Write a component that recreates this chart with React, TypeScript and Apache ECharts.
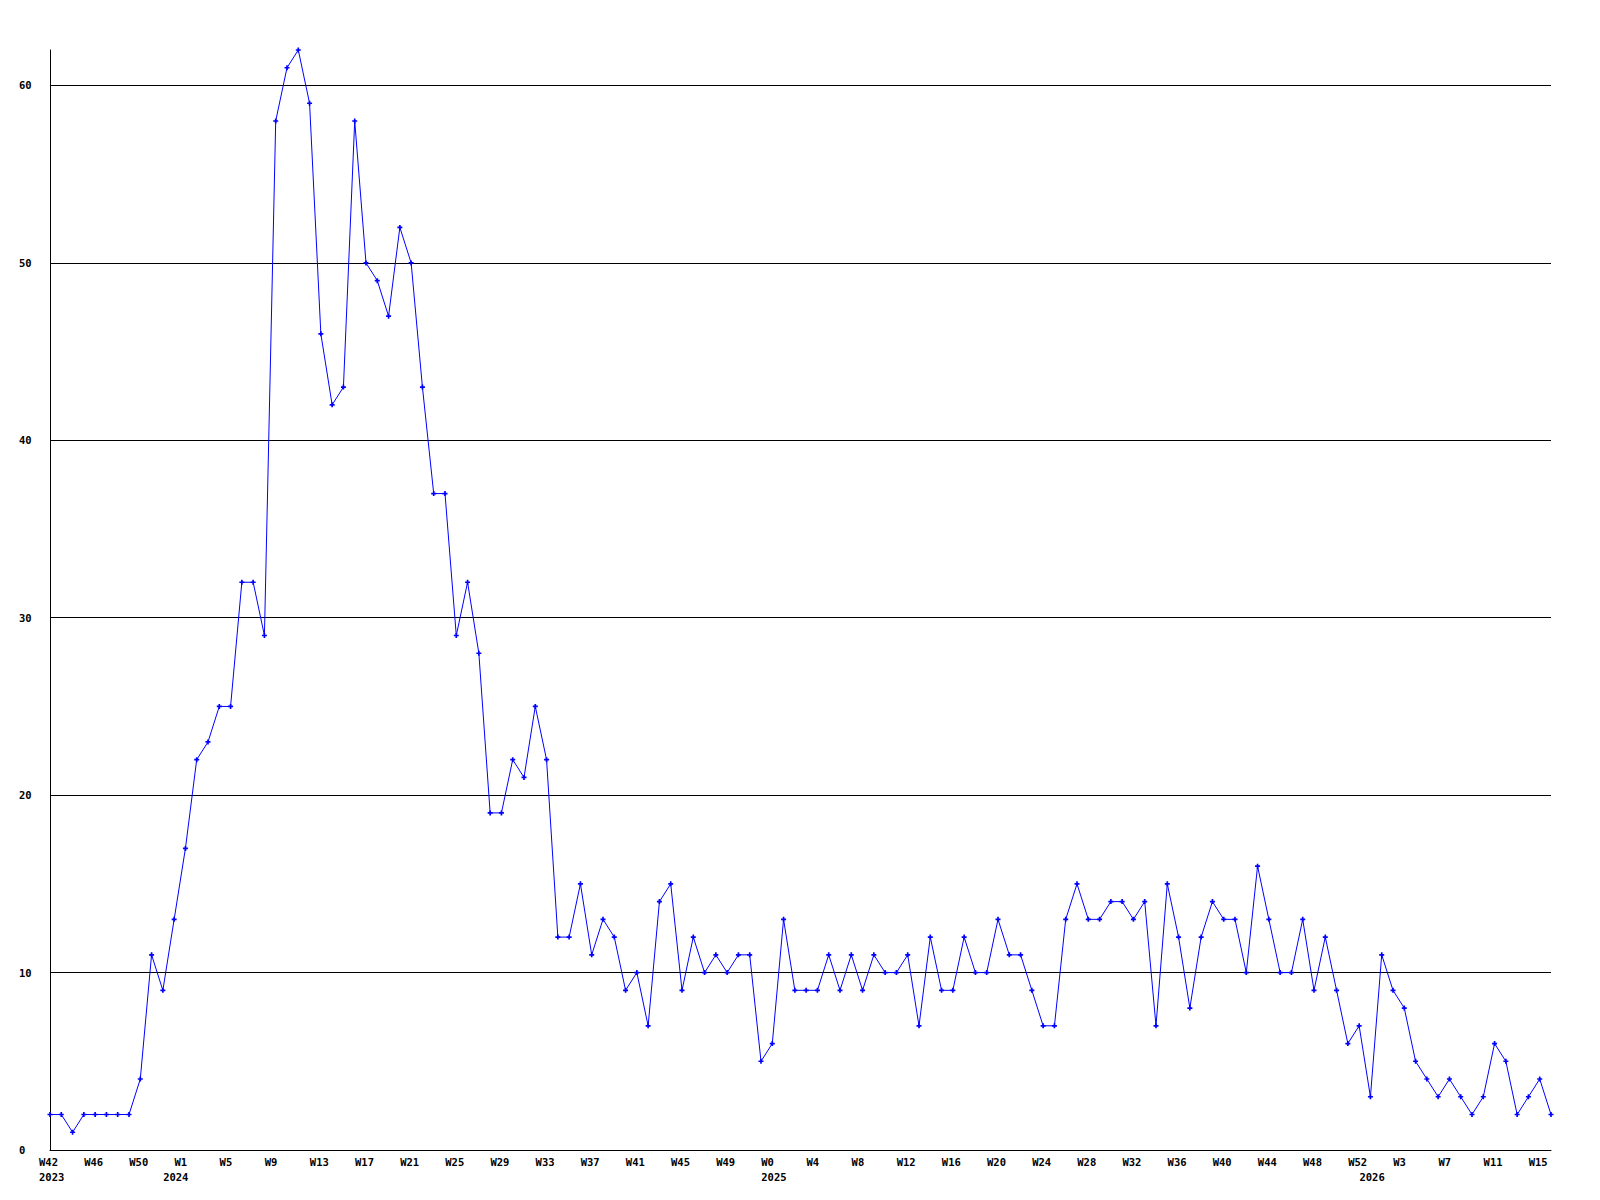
import React, { useEffect, useRef } from "react";
import * as echarts from "echarts";

// Week categories: "year|Wn"
function weeksOf(year: number, from: number, to: number): string[] {
  const out: string[] = [];
  for (let w = from; w <= to; w++) out.push(year + "|W" + w);
  return out;
}

const categories: string[] = [
  ...weeksOf(2023, 42, 52),
  ...weeksOf(2024, 0, 52),
  ...weeksOf(2025, 0, 52),
  ...weeksOf(2026, 0, 16),
];

const values2023: number[] = [2, 2, 1, 2, 2, 2, 2, 2, 4, 11, 9];
const values2024: number[] = [
  13, 17, 22, 23, 25, 25, 32, 32, 29, 58, 61, 62, 59, 46, 42, 43, 58, 50, 49, 47,
  52, 50, 43, 37, 37, 29, 32, 28, 19, 19, 22, 21, 25, 22, 12, 12, 15, 11, 13, 12,
  9, 10, 7, 14, 15, 9, 12, 10, 11, 10, 11, 11, 5,
];
const values2025: number[] = [
  6, 13, 9, 9, 9, 11, 9, 11, 9, 11, 10, 10, 11, 7, 12, 9, 9, 12, 10, 10,
  13, 11, 11, 9, 7, 7, 13, 15, 13, 13, 14, 14, 13, 14, 7, 15, 12, 8, 12, 14,
  13, 13, 10, 16, 13, 10, 10, 13, 9, 12, 9, 6, 7,
];
const values2026: number[] = [3, 11, 9, 8, 5, 4, 3, 4, 3, 2, 3, 6, 5, 2, 3, 4, 2];

const values: number[] = [...values2023, ...values2024, ...values2025, ...values2026];

const yMin = 0;
const yMax = 62;
const yInterval = 10;

const FONT = "DejaVu Sans Mono";

export default function App() {
  const ref = useRef<HTMLDivElement>(null);

  useEffect(() => {
    if (!ref.current) return;
    const chart = echarts.init(ref.current, undefined, { renderer: "svg" });

    const yearStarts = new Set<number>();
    categories.forEach((c, i) => {
      const y = c.split("|")[0];
      if (i === 0 || categories[i - 1].split("|")[0] !== y) yearStarts.add(i);
    });

    const labelFont = {
      color: "#000",
      fontFamily: FONT,
      fontWeight: "bold" as const,
      fontSize: 10.5,
    };

    chart.setOption({
      animation: false,
      backgroundColor: "#ffffff",
      grid: { left: 50, right: 49, top: 50, bottom: 50, containLabel: false },
      xAxis: [
        {
          type: "category",
          data: categories,
          boundaryGap: false,
          axisLine: { show: true, lineStyle: { color: "#000", width: 1 } },
          axisTick: { show: false },
          splitLine: { show: false },
          axisLabel: {
            ...labelFont,
            interval: 3,
            align: "left",
            padding: [0, 0, 0, -11],
            margin: 6,
            formatter: (v: string) => v.split("|")[1],
          },
        },
        {
          type: "category",
          data: categories,
          boundaryGap: false,
          position: "bottom",
          axisLine: { show: false },
          axisTick: { show: false },
          splitLine: { show: false },
          axisLabel: {
            ...labelFont,
            interval: (i: number) => yearStarts.has(i),
            align: "left",
            padding: [0, 0, 0, -11],
            margin: 21,
            formatter: (v: string) => v.split("|")[0],
          },
        },
      ],
      yAxis: {
        type: "value",
        min: yMin,
        max: yMax,
        interval: yInterval,
        axisLine: { show: true, lineStyle: { color: "#000", width: 1 } },
        axisTick: { show: false },
        splitLine: {
          show: true,
          showMinLine: false,
          showMaxLine: false,
          lineStyle: { color: "#000", width: 1 },
        },
        axisLabel: {
          ...labelFont,
          align: "left",
          margin: 31,
          showMaxLabel: false,
        },
      },
      series: [
        {
          type: "line",
          data: values,
          xAxisIndex: 0,
          symbol: "path://M1,0H2V1H3V2H2V3H1V2H0V1H1Z",
          symbolSize: 5,
          showAllSymbol: true,
          lineStyle: { color: "#0000ff", width: 1 },
          itemStyle: { color: "#0000ff" },
        },
      ],
    });

    return () => chart.dispose();
  }, []);

  return (
    <div
      ref={ref}
      style={{ position: "absolute", left: 0, top: 0, width: 1600, height: 1200 }}
    />
  );
}
